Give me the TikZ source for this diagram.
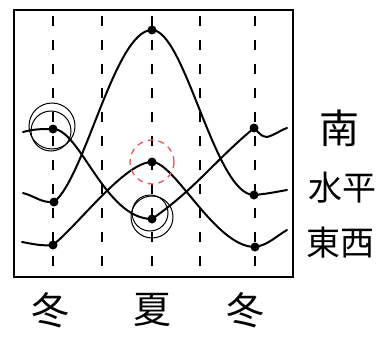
\documentclass[tikz,border=0pt]{standalone}
\usepackage{fontspec}
\newfontfamily\jpfont{Noto Sans CJK JP}
\begin{document}
\begin{tikzpicture}[x=1pt,y=1pt,
	sunline/.style={line width=2pt,line cap=round},
	gridline/.style={line width=1.3pt,dash pattern=on 10pt off 14pt},
	ring/.style={line width=1pt},
	kanji/.style={font=\jpfont\fontsize{34}{34}\selectfont,inner sep=0pt}]
	\useasboundingbox (0,0) rectangle (382,338);
	\draw[line width=2pt] (14,61) rectangle (293,328);
	\foreach \x in {53,102,152,200,255}
		\draw[gridline] (\x,322) -- (\x,64);
	% points of the three curves
	\coordinate (a0) at (23,206); \coordinate (a1) at (53,209); \coordinate (a2) at (152,119);
	\coordinate (a3) at (254,210); \coordinate (a4) at (267,201); \coordinate (a5) at (287,210);
	\coordinate (b0) at (23,145); \coordinate (b1) at (54,136); \coordinate (b2) at (152,308);
	\coordinate (b3) at (254,143); \coordinate (b4) at (287,148);
	\coordinate (c0) at (22,96); \coordinate (c1) at (53,93); \coordinate (c2) at (152,176);
	\coordinate (c3) at (255,91); \coordinate (c4) at (287,108);
	\draw[sunline] (a0) to[out=15,in=180] (a1) .. controls (80,209) and (105,119) .. (a2)
		to[out=35,in=220] (a3) to[out=-40,in=180] (a4) to[out=15,in=200] (a5);
	\draw[sunline] (b0) to[out=-15,in=185] (b1) .. controls (85,160) and (115,308) .. (b2)
		.. controls (185,308) and (215,143) .. (b3) to[out=5,in=190] (b4);
	\draw[sunline] (c0) to[out=-10,in=185] (c1) .. controls (80,115) and (125,176) .. (c2)
		.. controls (175,176) and (215,91) .. (c3) to[out=10,in=210] (c4);
	\foreach \p in {a1,a2,a3,b1,b2,b3,c1,c2,c3}
		\fill (\p) circle (4.5);
	% circled points
	\draw[ring] (52,212) circle (23); \draw[ring] (51,207) circle (20);
	\draw[ring] (152,121) circle (21); \draw[ring] (150,125) circle (18);
	\draw[ring,draw={rgb,255:red,235;green,90;blue,90},line width=1.3pt,dash pattern=on 6pt off 5pt] (c2) circle (22);
	% labels
	\node[kanji,font=\jpfont\fontsize{40}{40}\selectfont] (south) at (339,210) {南};
	\node[kanji] (level) at (342,150) {水平};
	\node[kanji] (eastwest) at (340,95) {東西};
	\node[kanji,font=\jpfont\fontsize{38}{38}\selectfont] (winter1) at (50,28) {冬};
	\node[kanji,font=\jpfont\fontsize{38}{38}\selectfont] (summer) at (152,28) {夏};
	\node[kanji,font=\jpfont\fontsize{38}{38}\selectfont] (winter2) at (245,28) {冬};
\end{tikzpicture}
\end{document}
